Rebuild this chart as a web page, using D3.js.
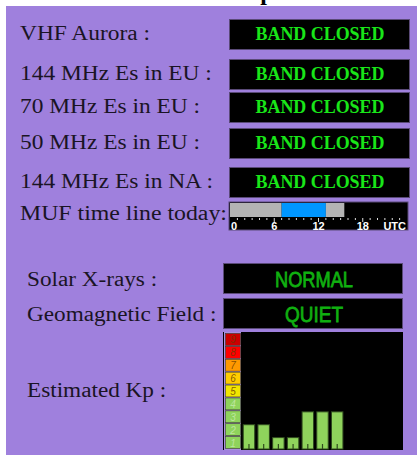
<!DOCTYPE html>
<html>
<head>
<meta charset="utf-8">
<script src="https://cdn.jsdelivr.net/npm/d3@7"></script>
<style>
  body { margin: 0; background: #fff; }
  svg { display: block; }
</style>
</head>
<body>
<div id="chart"></div>
<script>
// data
var bandLabels = ["VHF Aurora :", "144 MHz Es in EU :", "70 MHz Es in EU :", "50 MHz Es in EU :", "144 MHz Es in NA :"];
var bandStatus = ["BAND CLOSED", "BAND CLOSED", "BAND CLOSED", "BAND CLOSED", "BAND CLOSED"];
var mufStart = [0, 7, 13];
var mufEnd = [7, 13, 15.5];
var mufLevel = ["low", "high", "low"];
var utcTicks = [0, 6, 12, 18];
var sunLabels = ["Solar X-rays :", "Geomagnetic Field :"];
var sunStatus = ["NORMAL", "QUIET"];
var kpLevels = [1, 2, 3, 4, 5, 6, 7, 8, 9];
var kpValues = [2, 2, 1, 1, 3, 3, 3];

var width = 417, height = 455;
var svg = d3.select("#chart").append("svg")
    .attr("width", width)
    .attr("height", height);

// title, mostly hidden behind the panel
svg.append("text")
    .attr("x", 247).attr("y", 0)
    .attr("font-family", "Liberation Serif, serif")
    .attr("font-weight", "bold")
    .attr("font-size", 24)
    .attr("fill", "#000")
    .text("Space Weather");

svg.append("rect")
    .attr("x", 6).attr("y", 6)
    .attr("width", width - 6).attr("height", height - 6)
    .attr("fill", "#9f80dd");

var labelFont = "Liberation Serif, Times New Roman, serif";

function stretch(sel, k) {
    sel.each(function() {
        var len = this.getComputedTextLength();
        d3.select(this).attr("textLength", len * k).attr("lengthAdjust", "spacingAndGlyphs");
    });
}

// band rows
var rowTop = [19, 59, 92, 128, 167];
var bands = svg.append("g").selectAll("g")
    .data(bandLabels)
    .enter().append("g");

bands.append("text")
    .attr("x", 20)
    .attr("y", function(d, i) { return rowTop[i] + 21; })
    .attr("font-family", labelFont)
    .attr("font-size", 20)
    .attr("fill", "#1a1424")
    .text(function(d) { return d; })
    .call(stretch, 1.17);

bands.append("rect")
    .attr("x", 229.5)
    .attr("y", function(d, i) { return rowTop[i] + 0.5; })
    .attr("width", 180).attr("height", 30)
    .attr("fill", "#000")
    .attr("stroke", "#5a4a78");

bands.append("text")
    .attr("x", 320)
    .attr("y", function(d, i) { return rowTop[i] + 20.5; })
    .attr("text-anchor", "middle")
    .attr("font-family", labelFont)
    .attr("font-weight", "bold")
    .attr("font-size", 19)
    .attr("fill", "#19e619")
    .attr("textLength", 129)
    .attr("lengthAdjust", "spacingAndGlyphs")
    .text(function(d, i) { return bandStatus[i]; });

// MUF time line
svg.append("text")
    .attr("x", 20).attr("y", 220)
    .attr("font-family", labelFont)
    .attr("font-size", 20)
    .attr("fill", "#1a1424")
    .text("MUF time line today:")
    .call(stretch, 1.19);

var muf = svg.append("g");
var xMuf = d3.scaleLinear().domain([0, 24]).range([230, 407]);
var mufColor = { low: "#b4b4b4", high: "#0096ff" };

muf.append("rect")
    .attr("x", 229).attr("y", 202)
    .attr("width", 179).attr("height", 28)
    .attr("fill", "#000")
    .attr("stroke", "#5a4a78");

muf.selectAll(".seg")
    .data(mufStart)
    .enter().append("rect")
    .attr("class", "seg")
    .attr("x", function(d) { return xMuf(d); })
    .attr("y", 203)
    .attr("width", function(d, i) { return xMuf(mufEnd[i]) - xMuf(d); })
    .attr("height", 14)
    .attr("fill", function(d, i) { return mufColor[mufLevel[i]]; });

muf.selectAll(".tick")
    .data(d3.range(1, 24))
    .enter().append("line")
    .attr("class", "tick")
    .attr("x1", function(d) { return xMuf(d); })
    .attr("x2", function(d) { return xMuf(d); })
    .attr("y1", 218)
    .attr("y2", function(d) { return d % 6 === 0 ? 222 : 220; })
    .attr("stroke", "#ddd")
    .attr("stroke-width", 1);

muf.selectAll(".hr")
    .data(utcTicks)
    .enter().append("text")
    .attr("class", "hr")
    .attr("x", function(d) { return d === 0 ? xMuf(d) + 1 : xMuf(d); })
    .attr("y", 229.5)
    .attr("text-anchor", function(d) { return d === 0 ? "start" : "middle"; })
    .attr("font-family", "Liberation Sans, Arial, sans-serif")
    .attr("font-weight", "bold")
    .attr("font-size", 11)
    .attr("fill", "#fff")
    .text(function(d) { return d; });

muf.append("text")
    .attr("x", 406).attr("y", 229.5)
    .attr("text-anchor", "end")
    .attr("font-family", "Liberation Sans, Arial, sans-serif")
    .attr("font-weight", "bold")
    .attr("font-size", 11)
    .attr("fill", "#fff")
    .text("UTC");

// solar rows
var sunTop = [263, 298];
var sun = svg.append("g").selectAll("g")
    .data(sunLabels)
    .enter().append("g");

sun.append("text")
    .attr("x", 27)
    .attr("y", function(d, i) { return sunTop[i] + 23; })
    .attr("font-family", labelFont)
    .attr("font-size", 20)
    .attr("fill", "#1a1424")
    .text(function(d) { return d; })
    .call(stretch, 1.16);

sun.append("rect")
    .attr("x", 223.5)
    .attr("y", function(d, i) { return sunTop[i] + 0.5; })
    .attr("width", 179).attr("height", 30)
    .attr("fill", "#000")
    .attr("stroke", "#5a4a78");

sun.append("text")
    .attr("x", 314)
    .attr("y", function(d, i) { return sunTop[i] + 24; })
    .attr("text-anchor", "middle")
    .attr("font-family", "Liberation Sans, Arial, sans-serif")
    .attr("font-size", 22)
    .attr("fill", "#10b010")
    .attr("stroke", "#10b010")
    .attr("stroke-width", 0.8)
    .attr("textLength", function(d, i) { return i === 0 ? 78 : 58; })
    .attr("lengthAdjust", "spacingAndGlyphs")
    .text(function(d, i) { return sunStatus[i]; });

// Kp
svg.append("text")
    .attr("x", 27).attr("y", 397)
    .attr("font-family", labelFont)
    .attr("font-size", 20)
    .attr("fill", "#1a1424")
    .text("Estimated Kp :")
    .call(stretch, 1.16);

var kp = svg.append("g");
kp.append("rect")
    .attr("x", 223).attr("y", 332)
    .attr("width", 180).attr("height", 118)
    .attr("fill", "#000");

var yKp = d3.scaleLinear().domain([0, 9]).range([449, 333]);
var kpColor = d3.scaleThreshold()
    .domain([5, 6, 7, 8, 9])
    .range(["#8fd35c", "#f2e600", "#ffcc00", "#ff9900", "#ff0000", "#cc0000"]);

kp.append("rect")
    .attr("x", 224).attr("y", 332)
    .attr("width", 17).attr("height", 118)
    .attr("fill", "#a98fdf");

kp.selectAll(".cell")
    .data(kpLevels)
    .enter().append("rect")
    .attr("class", "cell")
    .attr("x", 225.5)
    .attr("y", function(d) { return yKp(d) + 0.5; })
    .attr("width", 15)
    .attr("height", function(d) { return yKp(d - 1) - yKp(d) - 1; })
    .attr("fill", function(d) { return kpColor(d); })
    .attr("stroke", "#3a3a2a")
    .attr("stroke-width", 0.6);

kp.selectAll(".lvl")
    .data(kpLevels)
    .enter().append("text")
    .attr("class", "lvl")
    .attr("x", 233)
    .attr("y", function(d) { return yKp(d - 0.5) + 4; })
    .attr("text-anchor", "middle")
    .attr("font-family", "Liberation Sans, Arial, sans-serif")
    .attr("font-style", "italic")
    .attr("font-size", 10)
    .attr("fill", function(d) { return d <= 4 ? "#c8eab0" : "#6a3a00"; })
    .attr("fill-opacity", 0.8)
    .text(function(d) { return d; });

var xKp = d3.scaleBand()
    .domain(d3.range(11))
    .range([242, 402])
    .paddingInner(0.22)
    .paddingOuter(0.05);

var bars = kp.selectAll(".bar")
    .data(kpValues)
    .enter().append("g");

bars.append("rect")
    .attr("class", "bar")
    .attr("x", function(d, i) { return xKp(i) + 0.5; })
    .attr("y", function(d) { return yKp(d) + 1.5; })
    .attr("width", xKp.bandwidth())
    .attr("height", function(d) { return yKp(0) - yKp(d) - 1.5; })
    .attr("fill", "#8fd35c")
    .attr("stroke", "#2f4a1e")
    .attr("stroke-width", 1);

bars.append("line")
    .attr("x1", function(d, i) { return xKp(i) + xKp.bandwidth() / 2 + 0.5; })
    .attr("x2", function(d, i) { return xKp(i) + xKp.bandwidth() / 2 + 0.5; })
    .attr("y1", yKp(0) - 5)
    .attr("y2", yKp(0))
    .attr("stroke", "#2f4a1e")
    .attr("stroke-width", 1.2);
</script>
</body>
</html>
